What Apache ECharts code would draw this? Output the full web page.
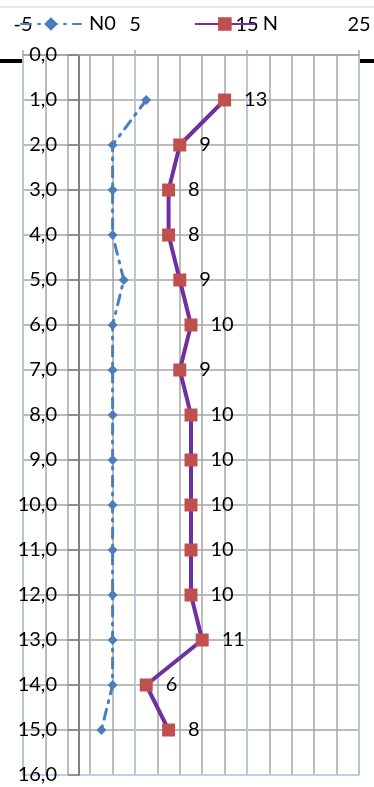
<!DOCTYPE html>
<html>
<head>
<meta charset="utf-8">
<script src="https://cdn.jsdelivr.net/npm/echarts@6/dist/echarts.min.js"></script>
<style>
  html, body { margin: 0; padding: 0; background: #fff; }
  #chart { width: 374px; height: 787px; }
</style>
</head>
<body>
<div id="chart"></div>
<script>
var depth = [1, 2, 3, 4, 5, 6, 7, 8, 9, 10, 11, 12, 13, 14, 15];
var n0 = [6, 3, 3, 3, 4, 3, 3, 3, 3, 3, 3, 3, 3, 3, 2];
var n15 = [13, 9, 8, 8, 9, 10, 9, 10, 10, 10, 10, 10, 11, 6, 8];
var xTicks = [-5, 5, 15, 25];

var myChart = echarts.init(document.getElementById('chart'));

function pairs(xs) {
    return xs.map(function (x, i) { return [x, depth[i]]; });
}

// horizontal grid: gray, last one (16,0) is the blue border
var hColors = [];
for (var i = 0; i < 17; i++) hColors.push(i === 16 ? '#b9cde5' : '#a6a6a6');

var font = 'Lato';

var option = {
    animation: false,
    textStyle: { fontFamily: font },
    graphic: [
        { type: 'line', shape: { x1: 0, y1: 7, x2: 374, y2: 7 }, style: { stroke: '#cfcfcf', lineWidth: 1 } },
        { type: 'line', shape: { x1: 0, y1: 61, x2: 23, y2: 61 }, style: { stroke: '#000', lineWidth: 4 } },
        { type: 'line', shape: { x1: 359, y1: 61, x2: 374, y2: 61 }, style: { stroke: '#000', lineWidth: 4 } }
    ],
    legend: {
        left: 20,
        top: 14,
        padding: 0,
        itemWidth: 60,
        itemHeight: 17,
        itemGap: 78,
        textStyle: { fontFamily: font, fontSize: 20, color: '#000', padding: [0, 0, 0, 3] },
        data: ['N0', 'N']
    },
    grid: {
        left: 23,
        right: 15,
        top: 55,
        bottom: 12,
        outerBoundsMode: 'none',
        containLabel: false,
        show: true,
        backgroundColor: '#fff',
        borderColor: '#b9cde5',
        borderWidth: 1.5
    },
    xAxis: [{
        type: 'value',
        position: 'top',
        min: xTicks[0],
        max: xTicks[xTicks.length - 1],
        interval: 10,
        z: 1,
        axisLine: { show: true, onZero: false, lineStyle: { color: '#a6a6a6', width: 1.5 } },
        axisTick: { show: true, length: 5, lineStyle: { color: '#a6a6a6', width: 1.5 } },
        axisLabel: { fontFamily: font, fontSize: 20, color: '#000', margin: 20 },
        splitLine: { show: true, lineStyle: { color: '#b9cde5', width: 1.5 } }
    }, {
        type: 'value',
        position: 'top',
        min: -5,
        max: 25,
        interval: 2,
        z: 0,
        axisLine: { show: false },
        axisTick: { show: false },
        axisLabel: { show: false },
        splitLine: { show: true, lineStyle: { color: '#a6a6a6', width: 1.5 } }
    }],
    yAxis: {
        type: 'value',
        inverse: true,
        min: 0,
        max: 16,
        interval: 1,
        z: 1,
        // the axis sits at x = 0 of the top scale
        offset: -56,
        axisLine: { show: true, onZero: false, lineStyle: { color: '#7f7f7f', width: 2 } },
        axisTick: { show: true, length: 11, lineStyle: { color: '#7f7f7f', width: 1.5 } },
        axisLabel: {
            fontFamily: font, fontSize: 20, color: '#000', margin: 22,
            formatter: function (v) { return v.toFixed(1).replace('.', ','); }
        },
        splitLine: { show: true, lineStyle: { color: hColors, width: 1.5 } }
    },
    series: [{
        name: 'N0',
        type: 'line',
        data: pairs(n0),
        symbol: 'diamond',
        symbolSize: 10,
        itemStyle: { color: '#4a7ebb' },
        lineStyle: { color: '#4a7ebb', width: 3, type: [10, 7, 2, 7], cap: 'round' }
    }, {
        name: 'N',
        type: 'line',
        data: pairs(n15),
        symbol: 'rect',
        symbolSize: 13,
        itemStyle: { color: '#c0504d' },
        lineStyle: { color: '#7030a0', width: 4 },
        label: {
            show: true,
            position: 'right',
            distance: 13,
            fontFamily: font,
            fontSize: 20,
            color: '#000',
            formatter: function (p) { return p.value[0]; }
        }
    }]
};

myChart.setOption(option);
</script>
</body>
</html>
